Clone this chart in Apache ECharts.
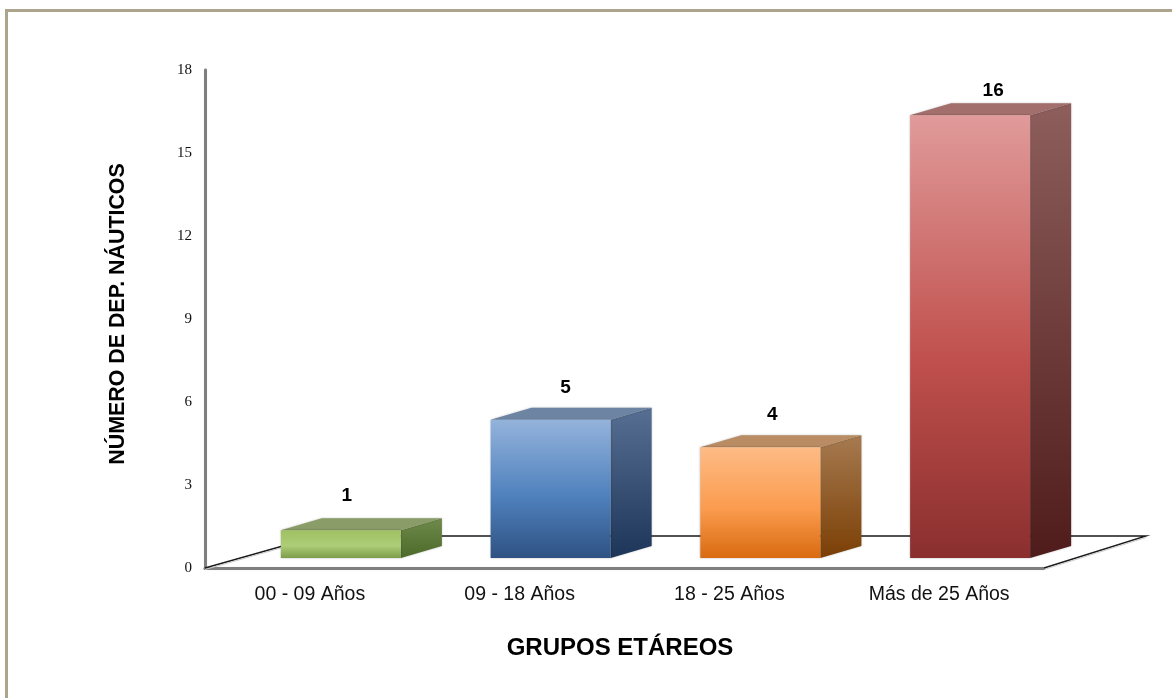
<!DOCTYPE html>
<html><head><meta charset="utf-8">
<style>html,body{margin:0;padding:0;background:#fff}#c{width:1172px;height:698px}</style>
<script src="https://cdn.jsdelivr.net/npm/echarts@6/dist/echarts.min.js"></script>
</head><body><div id="c"></div>
<script>
const categories = ['00 - 09 Años', '09 - 18 Años', '18 - 25 Años', 'Más de 25 Años'];
const values = [1, 5, 4, 16];
const yTicks = [0, 3, 6, 9, 12, 15, 18];
const yAxisTitle = 'NÚMERO DE DEP. NÁUTICOS';
const xAxisTitle = 'GRUPOS ETÁREOS';

const palettes = [
  {front:['#9fc062','#aecd78','#7d9d4a'], top:'#8a9d68', side:['#6f8a4a','#4d6a2b']},
  {front:['#94b3dc','#4f81bd','#2f5283'], top:'#6d84a3', side:['#566f92','#1d3558']},
  {front:['#fdbb85','#fb9c4f','#d96a10'], top:'#b98c63', side:['#a67a50','#7b3f05']},
  {front:['#e09b9a','#c0504d','#8a2f2e'], top:'#a36f6c', side:['#8d5e5c','#4f1c1b']}
];
const labelShift = [[6,-35],[15,-32],[12,-33],[23,-25]];
const chart = echarts.init(document.getElementById('c'), null, {renderer:'canvas'});
const BW = 120, DX = 41, DY = -12, LIFT = -10, CX = 31;
const grad = (x0,y0,x1,y1,stops) => new echarts.graphic.LinearGradient(x0,y0,x1,y1,stops,false);

function floor(params, api) {
  const cs = params.coordSys;
  const y = api.coord([0, 0])[1];
  const a = [cs.x, y], b = [cs.x + cs.width, y];
  const bd = 102, ld = 113, h = -32;
  return {type:'group', silent:true, children:[
    {type:'polyline', shape:{points:[[a[0],a[1]],[a[0]+ld,a[1]+h],[b[0]+bd,b[1]+h],[b[0],b[1]]]},
     style:{fill:null, stroke:'#1a1a1a', lineWidth:1.4}},
    {type:'line', shape:{x1:a[0],y1:a[1]+1.5,x2:a[0]+ld,y2:a[1]+h+1.5}, style:{stroke:'#c9c9c9',lineWidth:1}},
    {type:'line', shape:{x1:b[0],y1:b[1]+1.5,x2:b[0]+bd,y2:b[1]+h+1.5}, style:{stroke:'#c9c9c9',lineWidth:1}}
  ]};
}

function bar3d(params, api) {
  const i = api.value(0), v = api.value(1);
  const top = api.coord([i, v]);
  const zero = api.coord([i, 0]);
  const l = top[0] + CX - BW/2, r = l + BW;
  const t = top[1] + LIFT, b = zero[1] + LIFT;
  const p = palettes[i];
  const sh = {shadowBlur:2, shadowColor:'rgba(0,0,0,0.28)'};
  const ls = labelShift[i];
  return {type:'group', children:[
    {type:'polygon', shape:{points:[[r,t],[r+DX,t+DY],[r+DX,b+DY],[r,b]]},
     style:Object.assign({fill:grad(0,0,0,1,[{offset:0,color:p.side[0]},{offset:1,color:p.side[1]}])},sh)},
    {type:'polygon', shape:{points:[[l,t],[l+DX,t+DY],[r+DX,t+DY],[r,t]]},
     style:Object.assign({fill:p.top},sh)},
    {type:'rect', shape:{x:l,y:t,width:BW,height:b-t},
     style:Object.assign({fill:grad(0,0,0,1,[{offset:0,color:p.front[0]},{offset:0.55,color:p.front[1]},{offset:1,color:p.front[2]}])},sh)},
    {type:'text', style:{x:l+BW/2+ls[0], y:t+ls[1], text:String(v), fill:'#000',
      font:'bold 19px "Liberation Sans", Arial, sans-serif', align:'center', verticalAlign:'middle'}}
  ]};
}

chart.setOption({
  animation:false,
  backgroundColor:'#fff',
  grid:{left:205, right:128, top:70, bottom:130, containLabel:false},
  xAxis:{type:'category', data:categories,
    axisLine:{lineStyle:{color:'#7f7f7f', width:3, shadowColor:'rgba(0,0,0,0.2)', shadowBlur:1}},
    axisTick:{show:false},
    axisLabel:{color:'#111', fontFamily:'"Liberation Sans",sans-serif', fontSize:19.5, margin:17},
    name:xAxisTitle, nameLocation:'middle', nameGap:68,
    nameTextStyle:{color:'#000', fontWeight:'bold', fontSize:24, fontFamily:'"Liberation Sans",Arial,sans-serif', padding:[0,9,0,0]}
  },
  yAxis:{type:'value', min:0, max:18, interval:3,
    axisLine:{show:true, lineStyle:{color:'#7f7f7f', width:3, shadowColor:'rgba(0,0,0,0.2)', shadowBlur:1}},
    axisTick:{show:false}, splitLine:{show:false},
    axisLabel:{color:'#111', fontFamily:'"Liberation Serif","Times New Roman",serif', fontSize:15, margin:13,
      formatter:v => yTicks.includes(v) ? String(v) : ''},
    name:yAxisTitle, nameLocation:'middle', nameGap:76, nameRotate:90,
    nameTextStyle:{color:'#000', fontWeight:'bold', fontSize:21.4, fontFamily:'"Liberation Sans",Arial,sans-serif', padding:[0,0,0,10]}
  },
  series:[
    {type:'custom', silent:true, z:1, coordinateSystem:'cartesian2d', data:[[0,0]], renderItem:floor, clip:false},
    {type:'custom', silent:true, z:2, coordinateSystem:'cartesian2d', renderItem:bar3d, clip:false,
     encode:{x:0,y:1}, data:values.map((v,i)=>[i,v])}
  ],
  graphic:[
    {type:'rect', z:10, silent:true, shape:{x:5,y:9,width:1167,height:3}, style:{fill:'#aca48b'}},
    {type:'rect', z:10, silent:true, shape:{x:5,y:9,width:3,height:689}, style:{fill:'#aca48b'}}
  ]
});
</script></body></html>
